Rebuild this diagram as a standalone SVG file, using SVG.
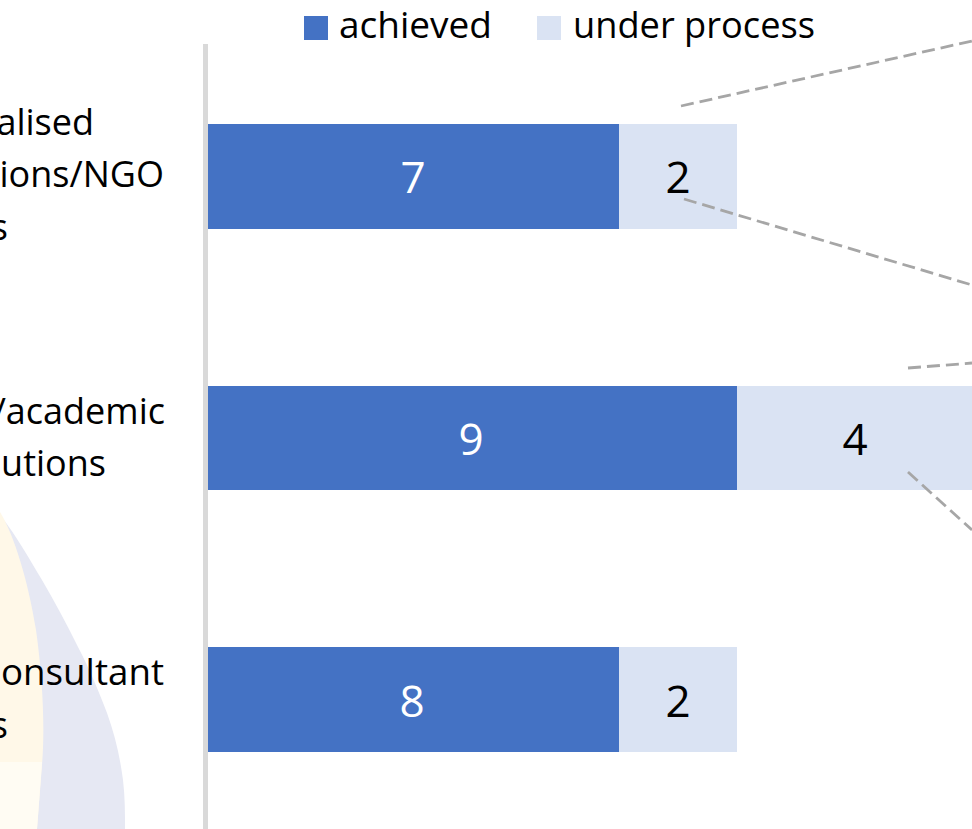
<svg xmlns="http://www.w3.org/2000/svg" width="972" height="829" viewBox="0 0 972 829">
<style>
text{font-family:"Open Sans","Noto Sans","Liberation Sans",sans-serif;font-size:36px;fill:#000}
.v{font-size:44px;text-anchor:middle}
.w{fill:#fff}
.a{fill:#4472c4}
.u{fill:#dae3f3}
.d{fill:none;stroke:#a6a6a6;stroke-width:2.8;stroke-dasharray:13 6}
</style>
<rect width="972" height="829" fill="#fff"/>
<g id="background">
<path d="M0 515C18 538 30 560 42 580C55 602 67 625 78 647C90 670 99 692 107 713C115 735 120 757 123 780C125 797 125 813 125 829H0Z" fill="#e6e8f3"/>
<path d="M0 512C14 535 28 580 36 630C43 680 45 730 42 765L37 829H0Z" fill="#fff8e8"/>
<path d="M0 762H42L37 829H0Z" fill="#fffcf3"/>
</g>
<g id="axis"><rect x="203" y="44" width="5" height="785" fill="#d9d9d9"/></g>
<g id="legend">
<rect class="a" x="304" y="16" width="24" height="24"/>
<text x="339" y="38" textLength="153" lengthAdjust="spacingAndGlyphs">achieved</text>
<rect class="u" x="537" y="16" width="24" height="24"/>
<text x="573" y="38" textLength="242" lengthAdjust="spacingAndGlyphs">under process</text>
</g>
<g id="label-1">
<text x="94" y="135" text-anchor="end">alised</text>
<text x="164" y="187" text-anchor="end">ions/NGO</text>
<text x="8" y="240" text-anchor="end">s</text>
</g>
<g id="label-2">
<text x="165" y="424" text-anchor="end">/academic</text>
<text x="106" y="476" text-anchor="end">utions</text>
</g>
<g id="label-3">
<text x="1" y="685" textLength="163" lengthAdjust="spacingAndGlyphs">onsultant</text>
<text x="8" y="738" text-anchor="end">s</text>
</g>
<g id="bar-1">
<rect class="a" x="208" y="124" width="411" height="105"/>
<text class="v w" x="413" y="193">7</text>
<rect class="u" x="619" y="124" width="118" height="105"/>
<text class="v" x="678" y="193">2</text>
</g>
<g id="bar-2">
<rect class="a" x="208" y="386" width="529" height="104"/>
<text class="v w" x="471" y="455">9</text>
<rect class="u" x="737" y="386" width="235" height="104"/>
<text class="v" x="855" y="455">4</text>
</g>
<g id="bar-3">
<rect class="a" x="208" y="647" width="411" height="105"/>
<text class="v w" x="412" y="717">8</text>
<rect class="u" x="619" y="647" width="118" height="105"/>
<text class="v" x="678" y="717">2</text>
</g>
<g id="connectors">
<path class="d" d="M681 106L972 41"/>
<path class="d" d="M684 199L972 285"/>
<path class="d" d="M908 368L972 363"/>
<path class="d" d="M908 472L972 530"/>
</g>
</svg>
